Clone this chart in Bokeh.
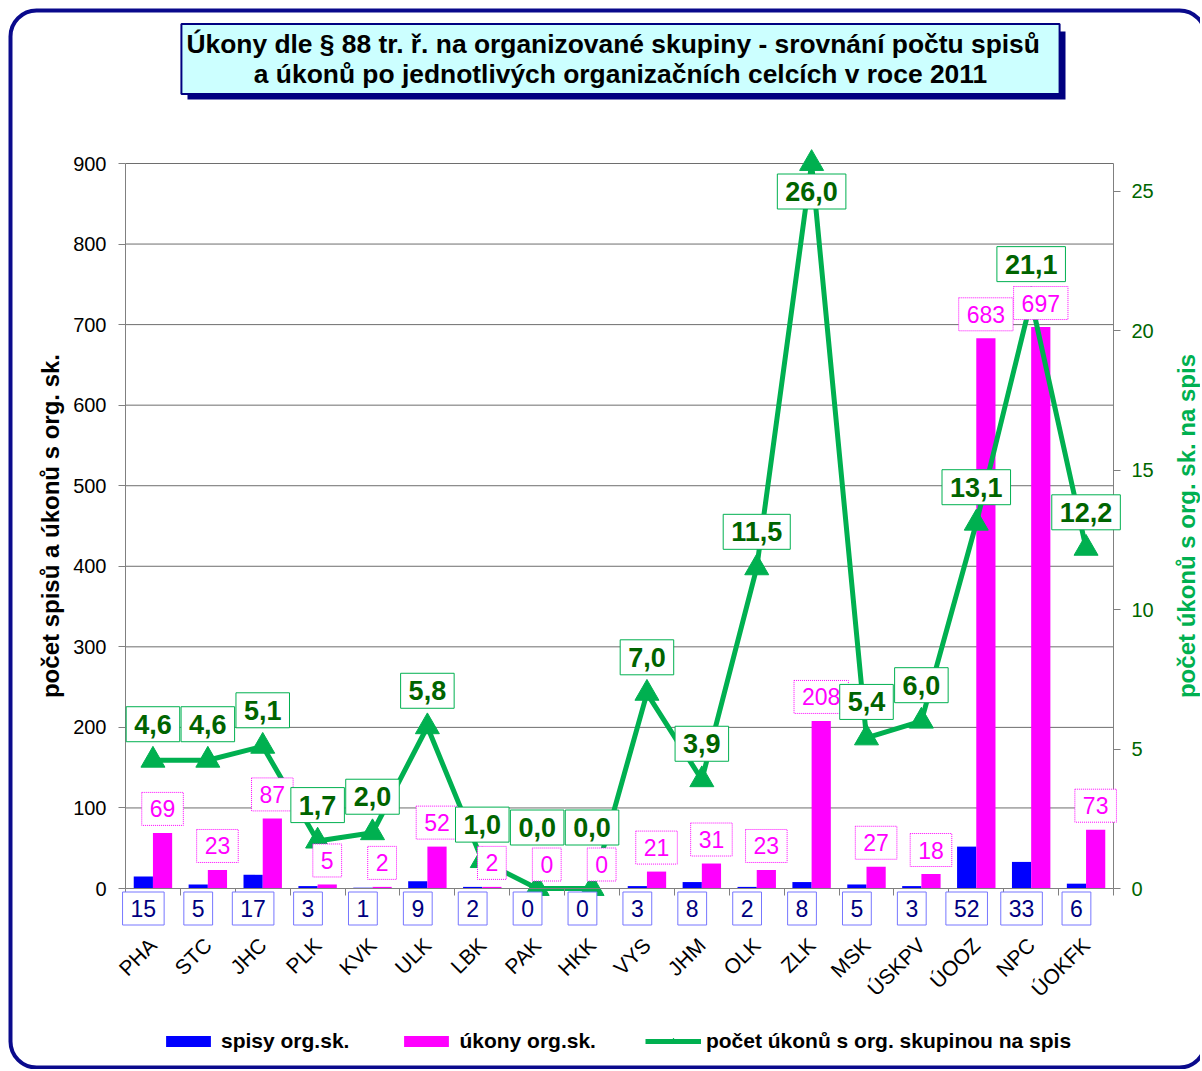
import math
from bokeh.plotting import figure
from bokeh.models import (ColumnDataSource, Range1d, LinearAxis, FixedTicker,
                          Label, BoxAnnotation, Legend, LegendItem)
from bokeh.embed import file_html
from bokeh.resources import INLINE

# ---------------- data ----------------
categories = ["PHA", "STC", "JHC", "PLK", "KVK", "ULK", "LBK", "PAK", "HKK",
              "VYS", "JHM", "OLK", "ZLK", "MSK", "ÚSKPV", "ÚOOZ", "NPC", "ÚOKFK"]
spisy = [15, 5, 17, 3, 1, 9, 2, 0, 0, 3, 8, 2, 8, 5, 3, 52, 33, 6]
ukony = [69, 23, 87, 5, 2, 52, 2, 0, 0, 21, 31, 23, 208, 27, 18, 683, 697, 73]
pomer = [4.6, 4.6, 5.1, 1.7, 2.0, 5.8, 1.0, 0.0, 0.0, 7.0, 3.9, 11.5, 26.0,
         5.4, 6.0, 13.1, 21.1, 12.2]
left_ticks = [0, 100, 200, 300, 400, 500, 600, 700, 800, 900]
right_ticks = [0, 5, 10, 15, 20, 25]
left_max, right_max = 900, 26
title_text = ("Úkony dle § 88 tr. ř.  na organizované skupiny -  srovnání počtu spisů\n"
              "a úkonů po jednotlivých organizačních celcích v roce 2011")
left_label = "počet spisů a úkonů s org. sk."
right_label = "počet úkonů s org. sk. na spis"
legend_labels = ["spisy org.sk.", "úkony org.sk.", "počet úkonů s org. skupinou na spis"]

FONT = "Liberation Sans"
W, H = 1200, 1069
n = len(categories)
idx = list(range(n))
bw = 0.35

# plot-area placement in pixels (layout only)
PL, PR, PT, PB = 125, 1113, 163, 888
kx = (PR - PL) / n                 # px per category
ky = (PB - PT) / left_max          # px per left unit
ky2 = (PB - PT) / right_max        # px per right unit
x0 = -0.5 - PL / kx
x1 = n - 0.5 + (W - PR) / kx
y0 = -(H - PB) / ky
y1 = left_max + PT / ky


def px2x(px):
    return x0 + px / kx


def px2y(py):
    return y1 - py / ky


src = ColumnDataSource(dict(
    x=idx,
    xb=[i - bw / 2 for i in idx],
    xp=[i + bw / 2 for i in idx],
    spisy=spisy, ukony=ukony, pomer=pomer,
))

p = figure(width=W, height=H, x_range=Range1d(x0, x1), y_range=Range1d(y0, y1),
           output_backend="svg", toolbar_location=None, min_border=0,
           min_border_left=0, min_border_right=0, min_border_top=0, min_border_bottom=0)
p.background_fill_color = "white"
p.border_fill_color = "white"
p.outline_line_color = None
p.extra_y_ranges = {"right": Range1d(y0 * right_max / left_max,
                                     right_max + PT / ky2)}
p.grid.visible = False

# grid lines (horizontal, at left ticks, across the plot area)
gt = [t for t in left_ticks if t > 0]
p.segment(x0=[-0.5] * len(gt), x1=[n - 0.5] * len(gt), y0=gt, y1=gt,
          line_color="#6e6e6e", line_width=1)

# x axis at value 0
xa = p.xaxis[0]
xa.fixed_location = 0
xa.bounds = (-0.5, n - 0.5)
xa.ticker = FixedTicker(ticks=idx, minor_ticks=[i - 0.5 for i in range(n + 1)])
xa.major_label_overrides = {i: c for i, c in enumerate(categories)}
xa.major_tick_out = 0
xa.major_tick_in = 0
xa.minor_tick_out = 7
xa.minor_tick_in = 0
xa.minor_tick_line_color = "#808080"
xa.axis_line_color = "#808080"
xa.major_label_orientation = math.pi / 4
xa.major_label_standoff = 46
xa.major_label_text_font = FONT
xa.major_label_text_font_size = "21px"
xa.major_label_text_color = "black"

# left axis
ya = p.yaxis[0]
ya.fixed_location = -0.5
ya.bounds = (0, left_max)
ya.ticker = FixedTicker(ticks=left_ticks)
ya.minor_tick_line_color = None
ya.major_tick_out = 7
ya.major_tick_in = 0
ya.major_tick_line_color = "#808080"
ya.axis_line_color = "#808080"
ya.major_label_standoff = 12
ya.major_label_text_font = FONT
ya.major_label_text_font_size = "20px"
ya.major_label_text_color = "black"
ya.axis_label = left_label
ya.axis_label_text_font = FONT
ya.axis_label_text_font_size = "24px"
ya.axis_label_text_font_style = "bold"
ya.axis_label_text_color = "black"
ya.axis_label_standoff = 6

# right axis
ra = LinearAxis(y_range_name="right", ticker=FixedTicker(ticks=right_ticks))
ra.fixed_location = n - 0.5
ra.bounds = (0, right_max)
ra.minor_tick_line_color = None
ra.major_tick_out = 7
ra.major_tick_in = 0
ra.major_tick_line_color = "#808080"
ra.axis_line_color = "#808080"
ra.major_label_standoff = 11
ra.major_label_text_font = FONT
ra.major_label_text_font_size = "20px"
ra.major_label_text_color = "#006600"
p.add_layout(ra, "right")
p.add_layout(Label(x=px2x(1186), y=px2y((PT + PB) / 2), text=right_label,
                   angle=math.pi / 2, text_align="center", text_baseline="middle",
                   text_font=FONT, text_font_size="24px", text_font_style="bold",
                   text_color="#00B050"))

# bars
rb = p.vbar(x="xb", top="spisy", width=bw, source=src, fill_color="#0000FF",
            line_color=None)
rp = p.vbar(x="xp", top="ukony", width=bw, source=src, fill_color="#FF00FF",
            line_color=None)

# line
rl = p.line(x="x", y="pomer", source=src, y_range_name="right",
            line_color="#00B050", line_width=5)
rs = p.scatter(x="x", y="pomer", source=src, y_range_name="right", marker="triangle",
               size=24, fill_color="#00B050", line_color="#00B050")

# data labels (one Label per point, built from the data arrays)
pmax = max(pomer)
for i in idx:
    p.add_layout(Label(x=i + bw / 2, y=ukony[i], text=str(ukony[i]), y_offset=24,
                       text_align="center", text_baseline="middle",
                       text_font=FONT, text_font_size="23px", text_color="#FF00FF",
                       background_fill_color="white", border_line_color="#FF00FF",
                       border_line_dash="1 1", border_line_width=1, padding=8))
for i in idx:
    p.add_layout(Label(x=i - bw / 2, y=0, text=str(spisy[i]), y_offset=-20,
                       text_align="center", text_baseline="middle",
                       text_font=FONT, text_font_size="23px", text_color="#000080",
                       background_fill_color="white", border_line_color="#7777FF",
                       border_line_width=1, padding=8))
for i in idx:
    v = pomer[i]
    off = -28 if v == pmax else max(36, 61 - v * ky2)
    p.add_layout(Label(x=i, y=v, y_range_name="right",
                       text=("%.1f" % v).replace(".", ","), y_offset=off,
                       text_align="center", text_baseline="middle",
                       text_font=FONT, text_font_size="27px", text_font_style="bold",
                       text_color="#006400",
                       background_fill_color="white", border_line_color="#00B050",
                       border_line_width=1, padding=8))

# legend
legend = Legend(items=[LegendItem(label=legend_labels[0], renderers=[rb]),
                       LegendItem(label=legend_labels[1], renderers=[rp]),
                       LegendItem(label=legend_labels[2], renderers=[rl, rs])],
                orientation="horizontal", location=(160, H - 1053),
                glyph_width=56, glyph_height=14, label_standoff=5, spacing=49,
                padding=0, margin=0, border_line_color=None,
                background_fill_alpha=0,
                label_text_font=FONT, label_text_font_size="21px",
                label_text_font_style="bold", label_text_color="black")
p.add_layout(legend)

# title box with shadow
p.add_layout(BoxAnnotation(left=px2x(187), right=px2x(1065), top=px2y(31), bottom=px2y(99),
                           fill_color="#000080", fill_alpha=1, line_color=None))
p.add_layout(Label(x=px2x(620), y=px2y(58.5), text=title_text,
                   text_align="center", text_baseline="middle",
                   text_font=FONT, text_font_size="26.4px", text_font_style="bold",
                   text_line_height=1.0,
                   text_color="black", background_fill_color="#CCFFFF",
                   border_line_color="#000080", border_line_width=2, padding=5))

# outer rounded border
p.add_layout(BoxAnnotation(left=px2x(10), right=px2x(1205), top=px2y(10), bottom=px2y(1067),
                           fill_alpha=0, line_color="#0A0A8C", line_alpha=1, line_width=4,
                           border_radius=26))

open("out.html", "w").write(file_html(p, INLINE))
